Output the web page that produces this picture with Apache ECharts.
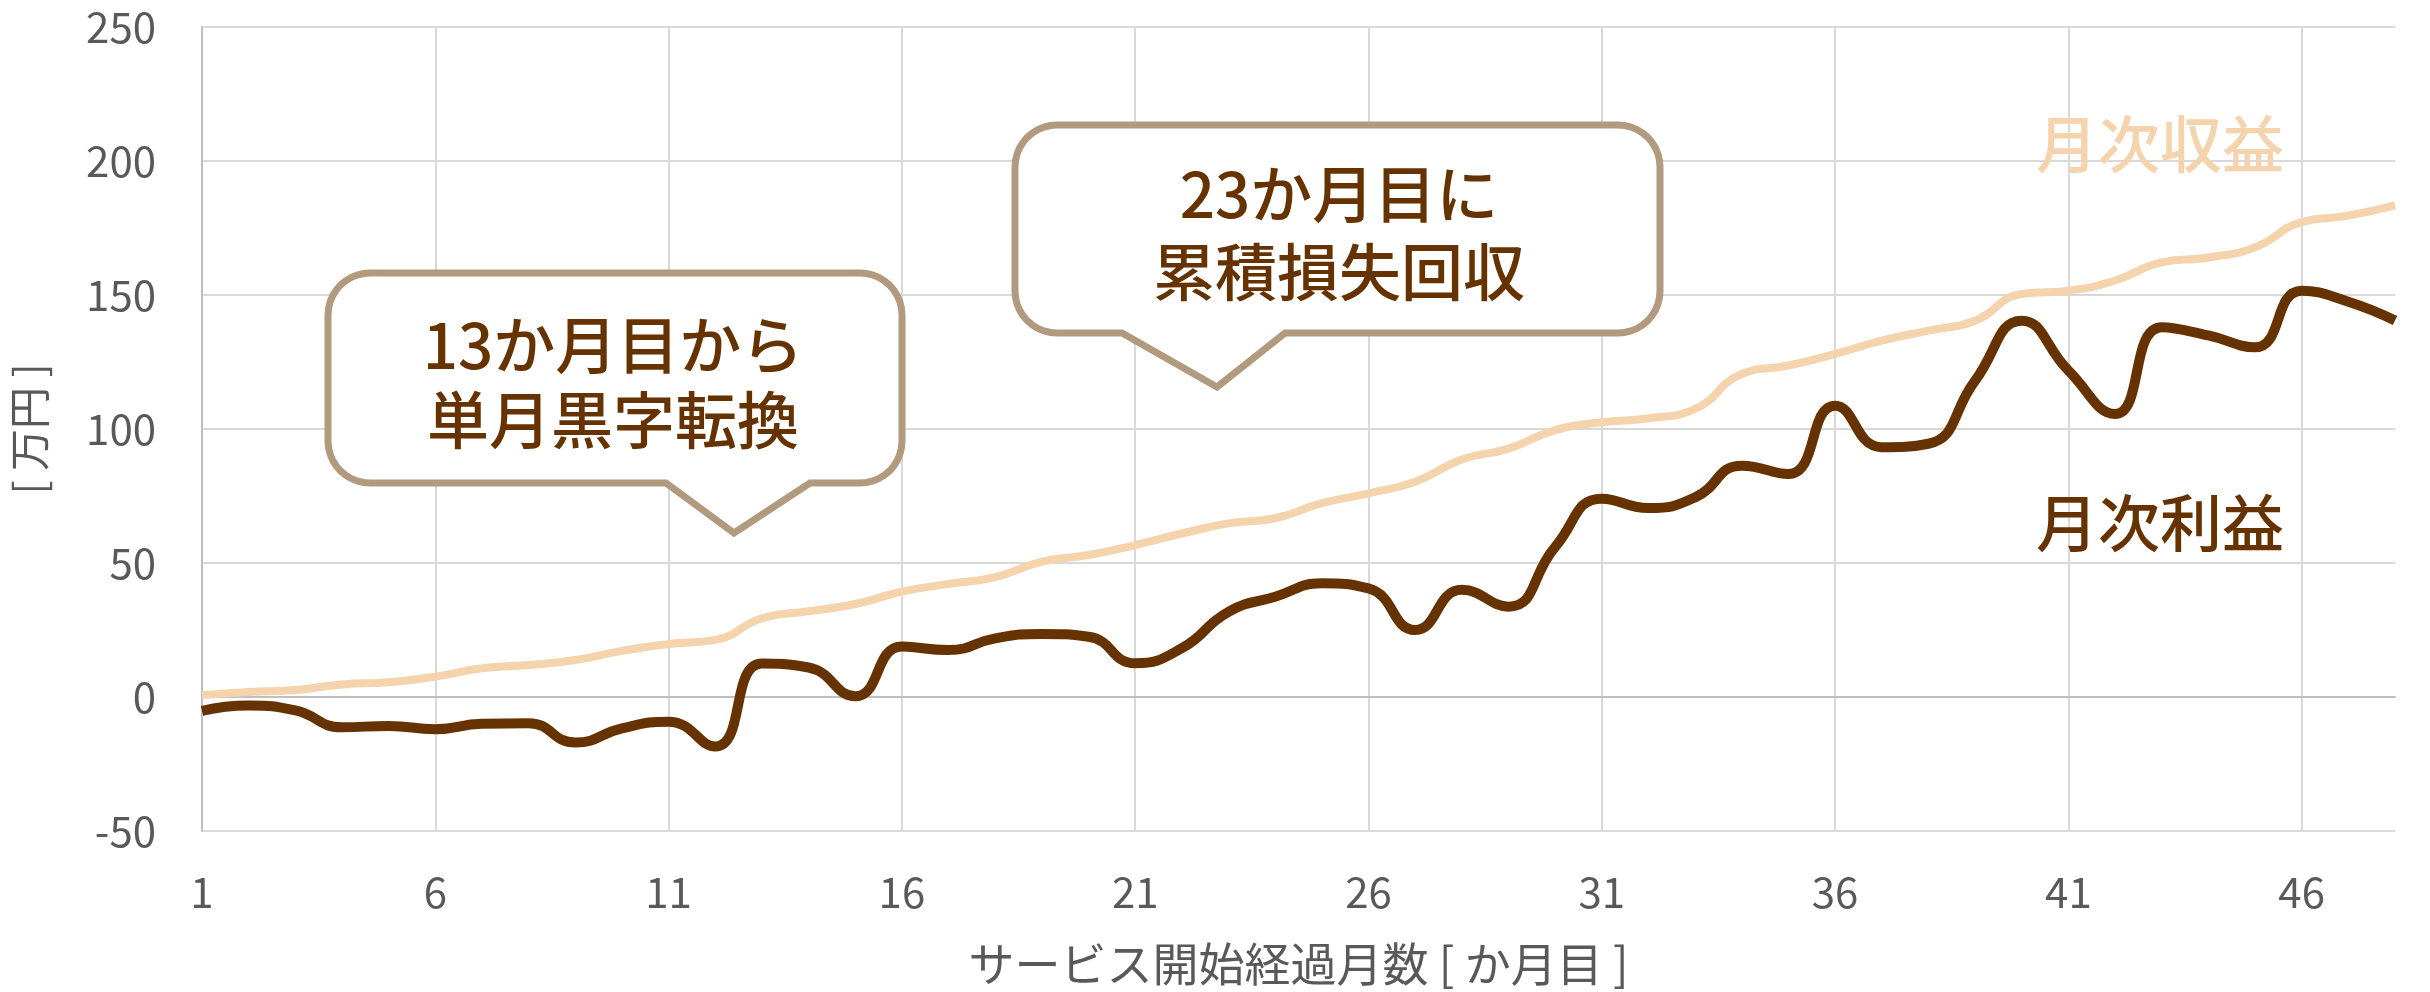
<!DOCTYPE html>
<html>
<head>
<meta charset="utf-8">
<script src="https://cdn.jsdelivr.net/npm/echarts@6/dist/echarts.min.js"></script>
<style>
  html, body { margin: 0; padding: 0; background: #fff; }
  #chart { width: 2430px; height: 992px; }
</style>
</head>
<body>
<div id="chart"></div>
<script>
// months since service start
const months = ['1','2','3','4','5','6','7','8','9','10','11','12','13','14','15','16',
  '17','18','19','20','21','22','23','24','25','26','27','28','29','30','31','32',
  '33','34','35','36','37','38','39','40','41','42','43','44','45','46','47','48'];

// 月次収益 [万円]
const revenue = [0.7, 1.9, 2.6, 4.7, 5.5, 7.6, 10.7, 11.9, 13.8, 17.2, 19.8, 21.3,
  29.4, 32, 34.7, 39.3, 42.2, 44.7, 50.5, 53, 56.7, 61, 64.8, 66.7,
  72.3, 76, 80.3, 88.6, 92.7, 99.6, 102.5, 104, 107.5, 120.5, 123.7, 128,
  133, 136.7, 140.4, 150.4, 151.6, 155.4, 162.2, 164, 167.8, 177.2, 179.6, 183.4];

// 月次利益 [万円]
const profit = [-5.2, -3.2, -5, -11.3, -10.8, -12, -10, -9.8, -17, -11.7, -9.2, -18.5,
  12.5, 11, 0.3, 18.8, 17.5, 21.9, 23.5, 22.5, 12.6, 18.2, 31.8, 37.4,
  42.4, 40.5, 25, 40, 33.7, 56, 74, 70.5, 74.5, 86.3, 83.2, 108.7,
  93.2, 94.5, 118, 140.4, 121.8, 105.6, 138, 134.9, 130.5, 151.6, 147.5, 140.5];

const callout1 = ['13か月目から', '単月黒字転換'];
const callout2 = ['23か月目に', '累積損失回収'];

const BROWN = '#663300';
const PEACH = '#F5D3AD';
const BORDER = '#B29A7F';
const FONT = '"Noto Sans CJK JP", "Noto Sans", sans-serif';

// corner arc points (quarter circle)
function arc(cx, cy, rad, a0, a1, pts) {
  const n = 10;
  for (let i = 0; i <= n; i++) {
    const a = a0 + (a1 - a0) * i / n;
    pts.push([cx + rad * Math.cos(a), cy + rad * Math.sin(a)]);
  }
}

// rounded box outline with a tail on the bottom edge
function bubble(l, t, r, b, rad, tailL, tipX, tipY, tailR) {
  const pts = [];
  const P = Math.PI;
  arc(l + rad, t + rad, rad, P, 1.5 * P, pts);
  arc(r - rad, t + rad, rad, 1.5 * P, 2 * P, pts);
  arc(r - rad, b - rad, rad, 0, 0.5 * P, pts);
  pts.push([tailR, b], [tipX, tipY], [tailL, b]);
  arc(l + rad, b - rad, rad, 0.5 * P, P, pts);
  return {
    type: 'polygon', z: 90,
    shape: { points: pts },
    style: { fill: '#fff', stroke: BORDER, lineWidth: 7, lineJoin: 'miter' }
  };
}

function textEl(str, x, y, color, size, weight) {
  return {
    type: 'text', z: 100,
    style: {
      text: str, x: x, y: y, fill: color,
      font: (weight || 'normal') + ' ' + size + 'px ' + FONT,
      align: 'center', verticalAlign: 'middle'
    }
  };
}

const chart = echarts.init(document.getElementById('chart'));

chart.setOption({
  animation: false,
  backgroundColor: '#fff',
  grid: { left: 201, right: 35, top: 27, bottom: 161, containLabel: false },
  xAxis: {
    type: 'category',
    data: months,
    boundaryGap: false,
    name: 'サービス開始経過月数 [ か月目 ]',
    nameLocation: 'middle',
    nameGap: 110,
    nameTextStyle: { color: '#595959', fontSize: 46, fontFamily: FONT },
    axisLine: { show: true, onZero: true, lineStyle: { color: '#BFBFBF', width: 2 } },
    axisTick: { show: false },
    axisLabel: { interval: 4, color: '#595959', fontSize: 42, fontFamily: FONT, margin: 40 },
    splitLine: { show: true, interval: 4, lineStyle: { color: '#D9D9D9', width: 2 } }
  },
  yAxis: {
    type: 'value',
    min: -50, max: 250, interval: 50,
    name: '[ 万円 ]',
    nameLocation: 'middle',
    nameGap: 152,
    nameRotate: 90,
    nameTextStyle: { color: '#595959', fontSize: 42, fontFamily: FONT },
    axisLine: { show: true, lineStyle: { color: '#BFBFBF', width: 2 } },
    axisTick: { show: false },
    axisLabel: { color: '#595959', fontSize: 42, fontFamily: FONT, margin: 46 },
    splitLine: { show: true, lineStyle: { color: '#D9D9D9', width: 2 } }
  },
  series: [
    {
      name: '月次収益',
      type: 'line',
      data: revenue,
      smooth: 0.5,
      symbol: 'none',
      lineStyle: { color: PEACH, width: 8 },
      z: 2
    },
    {
      name: '月次利益',
      type: 'line',
      data: profit,
      smooth: 0.5,
      symbol: 'none',
      lineStyle: { color: BROWN, width: 10 },
      z: 3
    }
  ],
  graphic: [
    bubble(328, 273, 902, 483, 42, 666, 734, 533, 810),
    textEl(callout1[0], 613, 345, BROWN, 62, '500'),
    textEl(callout1[1], 613, 420, BROWN, 62, '500'),
    bubble(1015, 125, 1660, 333, 42, 1122, 1217, 387, 1285),
    textEl(callout2[0], 1339, 194, BROWN, 62, '500'),
    textEl(callout2[1], 1339, 272, BROWN, 62, '500'),
    textEl('月次収益', 2160, 144, PEACH, 62, '500'),
    textEl('月次利益', 2160, 523, BROWN, 62, '500')
  ]
});
</script>
</body>
</html>
